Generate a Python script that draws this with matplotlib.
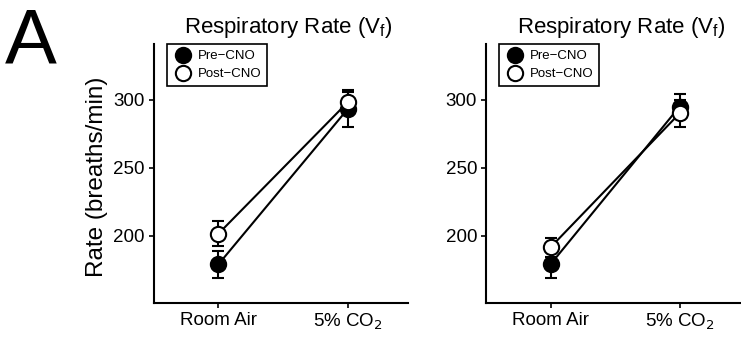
import matplotlib.pyplot as plt
from matplotlib.lines import Line2D

plt.rcParams['font.family'] = ['Liberation Sans', 'DejaVu Sans']

conditions = ['Room Air', '5% CO$_2$']
pos = [0, 1]

# left panel (breaths/min)
pre_left = [179, 293]
pre_left_err = [10, 13]
post_left = [201.5, 298]
post_left_err = [9, 9]

# right panel
pre_right = [179, 295]
pre_right_err = [10, 9]
post_right = [191.5, 290]
post_right_err = [7, 10]

fig = plt.figure(figsize=(7.41, 3.39), dpi=100)
ax1 = fig.add_axes([0.2078, 0.1062, 0.343, 0.764])
ax2 = fig.add_axes([0.656, 0.1062, 0.343, 0.764])


def draw(ax, pre, pre_err, post, post_err):
    ax.errorbar(pos, pre, yerr=pre_err, color='black', lw=1.5, capsize=4,
                capthick=1.5, marker='o', ms=11, mfc='black', mec='black',
                mew=1.5, zorder=2)
    ax.errorbar(pos, post, yerr=post_err, color='black', lw=1.5, capsize=4,
                capthick=1.5, marker='o', ms=11, mfc='white', mec='black',
                mew=1.5, zorder=3)
    ax.set_xlim(-0.5, 1.47)
    ax.set_ylim(150.5, 341)
    ax.set_xticks(pos)
    ax.set_xticklabels(conditions)
    ax.set_yticks([200, 250, 300])
    for s in ['top', 'right']:
        ax.spines[s].set_visible(False)
    for s in ['left', 'bottom']:
        ax.spines[s].set_linewidth(1.5)
    ax.tick_params(labelsize=13.5, width=1.2, length=3.5, pad=3)
    ax.set_title('Respiratory Rate (V$_\\mathregular{f}$)', fontsize=16,
                 pad=8, x=0.53)
    handles = [
        Line2D([], [], ls='none', marker='o', ms=11, mfc='black',
               mec='black', mew=1.5),
        Line2D([], [], ls='none', marker='o', ms=11, mfc='white',
               mec='black', mew=1.5),
    ]
    leg = ax.legend(handles, ['Pre\u2212CNO', 'Post\u2212CNO'],
                    loc='upper left', bbox_to_anchor=(0.05, 1.0),
                    fontsize=9.5, handlelength=1.5, handletextpad=0.4,
                    borderpad=0.45, labelspacing=0.45, fancybox=False,
                    borderaxespad=0, framealpha=1)
    leg.get_frame().set_edgecolor('black')
    leg.get_frame().set_linewidth(1.2)


draw(ax1, pre_left, pre_left_err, post_left, post_left_err)
draw(ax2, pre_right, pre_right_err, post_right, post_right_err)

fig.text(97 / 741, 0.479, 'Rate (breaths/min)', rotation=90,
         ha='center', va='center', fontsize=17.5)
fig.text(0.006, 0.814, 'A', fontsize=56, ha='left', va='baseline')

fig.savefig('out.png', dpi=100)
